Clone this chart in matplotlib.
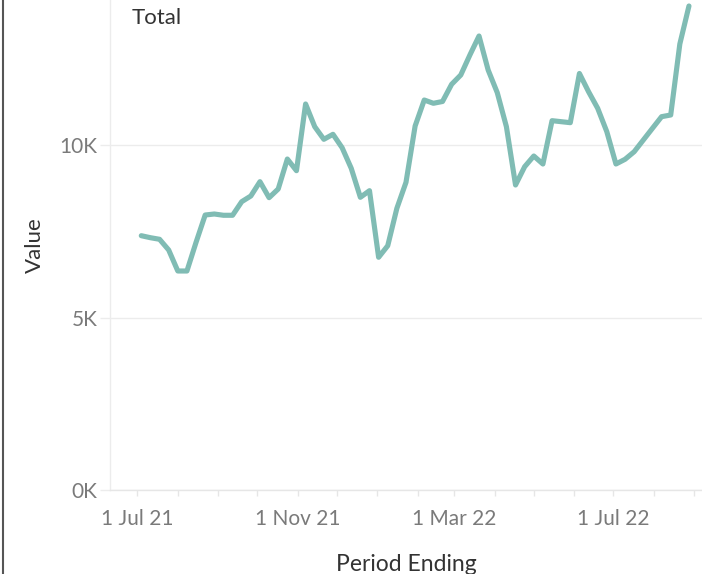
import matplotlib
matplotlib.use("Agg")
import matplotlib.pyplot as plt
import matplotlib.dates as mdates
from matplotlib.lines import Line2D
import numpy as np
import datetime as dt

# Weekly periods ending Sunday, 4 Jul 2021 .. 28 Aug 2022
start = dt.date(2021, 7, 4)
period_ending = [start + dt.timedelta(weeks=k) for k in range(61)]
values = [7371, 7313, 7267, 6957, 6348, 6348, 7180, 7971, 8000, 7963,
          7963, 8357, 8522, 8937, 8473, 8725, 9594, 9255, 11189, 10531,
          10165, 10310, 9922, 9325, 8484, 8676, 6745, 7081, 8165, 8919,
          10551, 11304, 11209, 11261, 11760, 12029, 12609, 13160, 12174, 11516,
          10531, 8841, 9371, 9681, 9449, 10705, 10676, 10647, 12073, 11545,
          11064, 10386, 9449, 9586, 9806, 10145, 10484, 10821, 10870, 12928,
          14029]
y_ticks = [0, 5000, 10000]
y_tick_labels = ["0K", "5K", "10K"]
x_tick_dates = [dt.date(2021, 7, 1), dt.date(2021, 11, 1), dt.date(2022, 3, 1), dt.date(2022, 7, 1)]
x_tick_labels = ["1 Jul 21", "1 Nov 21", "1 Mar 22", "1 Jul 22"]

plt.rcParams['font.family'] = ['Lato', 'DejaVu Sans']

fig = plt.figure(figsize=(7.02, 5.74), dpi=100)
ax = fig.add_axes([110/702, 84/574, 592/702, 490/574])

ax.plot(period_ending, values, color="#80bcb4", lw=3.7, solid_joinstyle="round",
        solid_capstyle="round", zorder=3)

ax.set_ylim(0, 14203)
ax.set_xlim(dt.date(2021, 6, 10), dt.date(2022, 9, 7))

ax.set_yticks(y_ticks)
ax.set_yticklabels(y_tick_labels)
ax.set_xticks(x_tick_dates)
ax.set_xticklabels(x_tick_labels)
ax.xaxis.set_minor_locator(mdates.MonthLocator())

for s in ["top", "right"]:
    ax.spines[s].set_visible(False)
ax.spines["left"].set_color("#ececec")
ax.spines["bottom"].set_color("#e6e6e6")
ax.spines["left"].set_linewidth(1.0)
ax.spines["bottom"].set_linewidth(1.0)

ax.grid(axis="y", color="#ececec", lw=1.0)
ax.set_axisbelow(True)

ax.tick_params(axis="y", length=7.2, width=1.0, color="#ececec", pad=2,
               labelsize=15, labelcolor="#7a7a7a")
ax.tick_params(axis="x", which="both", length=4, width=1.0, color="#e6e6e6",
               labelsize=15, labelcolor="#7a7a7a", pad=10)

ax.set_ylabel("Value", fontsize=16, color="#333333", labelpad=10)
ax.set_xlabel("Period Ending", fontsize=16.5, color="#333333", labelpad=18)

ax.text(132/702, 1 - 18/574, "Total", transform=fig.transFigure, fontsize=16,
        color="#333333", va="center", ha="left")

# left border of the worksheet
fig.add_artist(Line2D([2.5/702, 2.5/702], [0, 1], transform=fig.transFigure,
                      color="#555555", lw=1.5))

fig.savefig("out.png", dpi=100)
